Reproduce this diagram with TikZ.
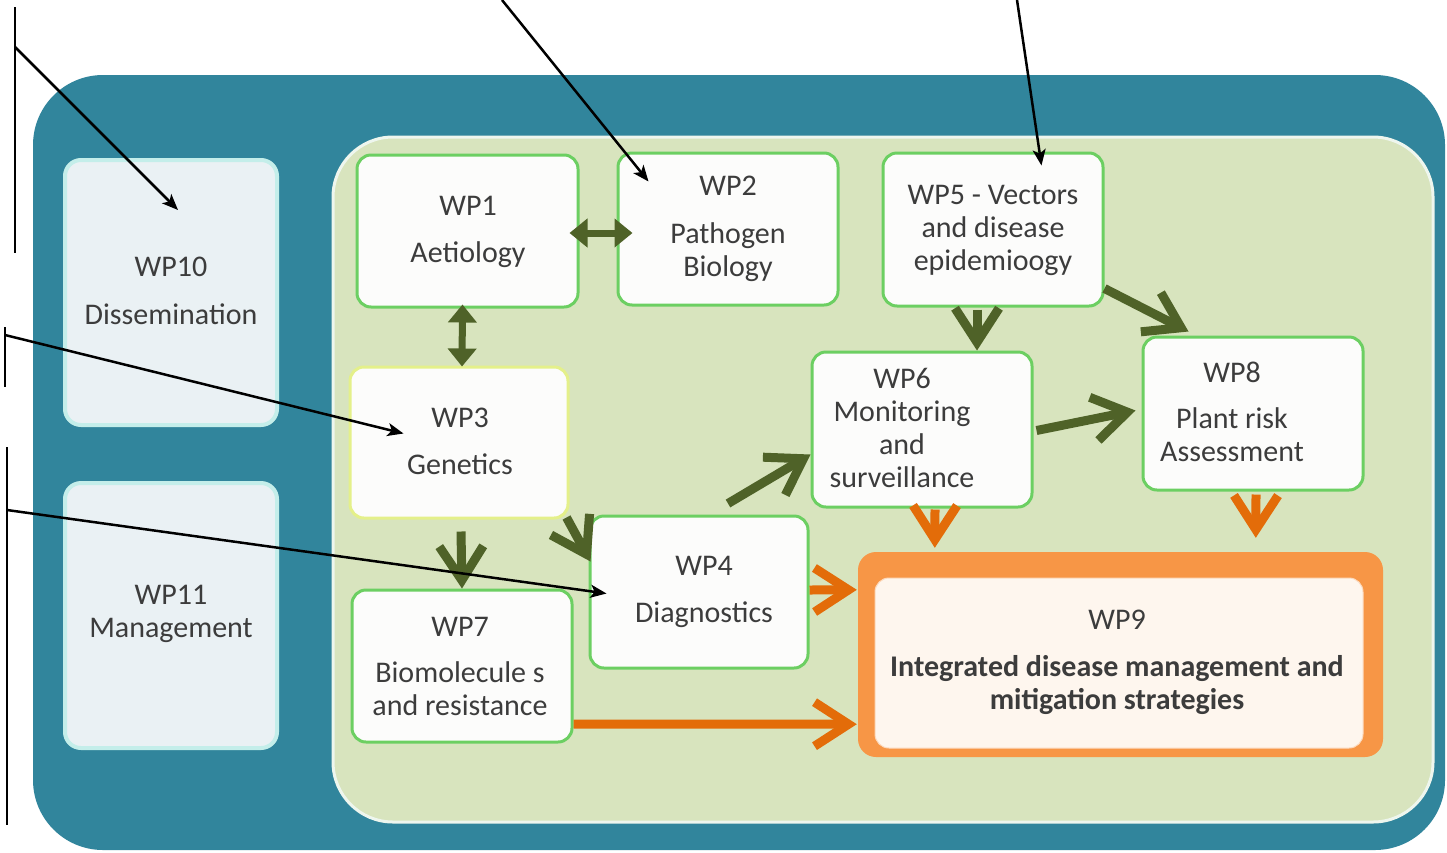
\documentclass[tikz,border=0pt]{standalone}
\usepackage{fontspec}
\setmainfont{Carlito}
\usetikzlibrary{arrows.meta,calc}

\definecolor{tealbg}{HTML}{31859C}
\definecolor{panel}{HTML}{D8E4BE}
\definecolor{panelline}{HTML}{EEF6EE}
\definecolor{boxgreen}{HTML}{6CCF62}
\definecolor{boxyellow}{HTML}{E4F08A}
\definecolor{boxfill}{HTML}{FCFCFB}
\definecolor{sidefill}{HTML}{EAF1F4}
\definecolor{sideline}{HTML}{C4EEEA}
\definecolor{arrgreen}{HTML}{4F6228}
\definecolor{arrorange}{HTML}{E36C09}
\definecolor{wpnineout}{HTML}{F79646}
\definecolor{wpninein}{HTML}{FEF6EE}
\definecolor{txtgray}{HTML}{3C3C3C}

\tikzset{
  wpbox/.style={draw=boxgreen, line width=3, fill=boxfill, rounded corners=14, inner sep=0},
  sidebox/.style={draw=sideline, line width=4, fill=sidefill, rounded corners=16, inner sep=0},
  wptext/.style={text=txtgray, align=center, inner sep=0, font=\fontsize{30}{33}\selectfont},
  garrow/.style={draw=arrgreen, line width=9, -{Straight Barb[length=34pt,width=44pt]}},
  oarrow/.style={draw=arrorange, line width=9, -{Straight Barb[length=34pt,width=44pt]}},
  dblarrow/.style={draw=arrgreen, line width=7, {Triangle[length=18pt,width=28pt]}-{Triangle[length=18pt,width=28pt]}},
  note/.style={draw=black, line width=2.5, -{Stealth[length=16pt,width=13pt,inset=4pt]}}
}

\begin{document}
\begin{tikzpicture}[x=1pt,y=1pt,yscale=-1]

\useasboundingbox (0,0) rectangle (1447,852);
\fill[white] (0,0) rectangle (1447,852);

%Shape: Rounded Rect (outer frame)
\fill[tealbg, rounded corners=70] (33,75) rectangle (1445,850);
%Shape: Rounded Rect (work panel)
\draw[panelline, line width=3, fill=panel, rounded corners=60] (333,137) rectangle (1433,822);

%Side boxes
\node[sidebox, minimum width=212, minimum height=265] (wp10) at (171,292.5) {};
\node[wptext] (wp10t) at (171,291) {WP10\\[15pt]Dissemination};
\node[sidebox, minimum width=212, minimum height=265] (wp11) at (171,615.5) {};
\node[wptext] (wp11t) at (171,613.5) {WP11\\Management};

%Work packages
\node[wpbox, minimum width=221, minimum height=152] (wp1) at (467.5,231) {};
\node[wptext] (wp1t) at (468,231.5) {WP1\\[14pt]Aetiology};
\node[wpbox, minimum width=220, minimum height=152] (wp2) at (728,229) {};
\node[wptext] (wp2t) at (728,228.5) {WP2\\[15pt]Pathogen\\Biology};
\node[wpbox, minimum width=220, minimum height=153] (wp5) at (993,229.5) {};
\node[wptext] (wp5t) at (993,230.5) {WP5 - Vectors\\and disease\\epidemioogy};
\node[wpbox, draw=boxyellow, minimum width=218, minimum height=151] (wp3) at (459,442.5) {};
\node[wptext] (wp3t) at (460,441.5) {WP3\\[14pt]Genetics};
\node[wpbox, minimum width=220, minimum height=155] (wp6) at (922,429.5) {};
\node[wptext] (wp6t) at (902,427.5) {WP6\\Monitoring\\and\\surveillance};
\node[wpbox, minimum width=220, minimum height=153] (wp8) at (1253,413.5) {};
\node[wptext] (wp8t) at (1232,411.5) {WP8\\[13pt]Plant risk\\Assessment};
\node[wpbox, minimum width=218, minimum height=152] (wp4) at (699,592) {};
\node[wptext] (wp4t) at (704,591.5) {WP4\\[14pt]Diagnostics};
\node[wpbox, minimum width=220, minimum height=152] (wp7) at (462,666) {};
\node[wptext] (wp7t) at (460,666.5) {WP7\\[13pt]Biomolecule s\\and resistance};

%WP9
\node[fill=wpnineout, rounded corners=18, minimum width=525, minimum height=205, inner sep=0] (wp9) at (1120.5,654.5) {};
\node[fill=wpninein, draw=wpninein!70!wpnineout, line width=1, rounded corners=14, minimum width=488, minimum height=170, inner sep=0] (wp9in) at (1119,663) {};
\node[wptext] (wp9t) at (1117,662.5) {WP9\\[14pt]\textbf{Integrated disease management and}\\\textbf{mitigation strategies}};

%Double arrows
\draw[dblarrow] ($(wp1.east)+(-10,2)$) -- ($(wp2.west)+(16,4)$);
\draw[dblarrow] ($(wp1.south)+(-5,-4)$) -- ($(wp3.north)+(3,1)$);

%Green arrows
\draw[garrow] ($(wp5.south)+(-16,2)$) -- ($(wp6.north)+(55,0)$);
\draw[garrow] ($(wp5.south east)+(0,-19)$) -- ($(wp8.north west)+(47,-4)$);
\draw[garrow] ($(wp6.east)+(3,1)$) -- ($(wp8.west)+(-6,-3)$);
\draw[garrow] ($(wp4.north)+(29,-11)$) -- ($(wp6.west)+(0,25)$);
\draw[garrow] ($(wp3.south)+(2,12)$) -- (wp7.north);
\draw[garrow] ($(wp3.south east)+(-3,-2)$) -- ($(wp4.north west)+(2,47)$);

%Orange arrows
\draw[oarrow] ($(wp6.south)+(13,1)$) -- ($(wp9.north west)+(77,-4)$);
\draw[oarrow] ($(wp8.south)+(3,3)$) -- ($(wp9.north west)+(398,-14)$);
\draw[oarrow] ($(wp4.east)+(0,-2)$) -- ($(wp9.north west)+(-1,38)$);
\draw[oarrow] ($(wp7.east)+(0,58)$) -- ($(wp9.south west)+(-1,-33)$);

%Annotation brackets
\draw[line width=2.5] (15,7) -- (15,253);
\draw[line width=2.5] (5,327) -- (5,387);
\draw[line width=2.5] (7,447) -- (7,825);
\coordinate (n1) at (15,47);
\coordinate (n2) at (5,335);
\coordinate (n3) at (7,510);
\coordinate (n4) at (502,0);
\coordinate (n5) at (1017,0);
\draw[note] (n1) -- ($(wp10.north west)+(115,52)$);
\draw[note] (n2) -- ($(wp3.north west)+(55,68)$);
\draw[note] (n3) -- ($(wp4.north west)+(18,79)$);
\draw[note] (n4) -- ($(wp2.north west)+(32,30)$);
\draw[note] (n5) -- ($(wp5.north west)+(160,14)$);

\end{tikzpicture}
\end{document}
